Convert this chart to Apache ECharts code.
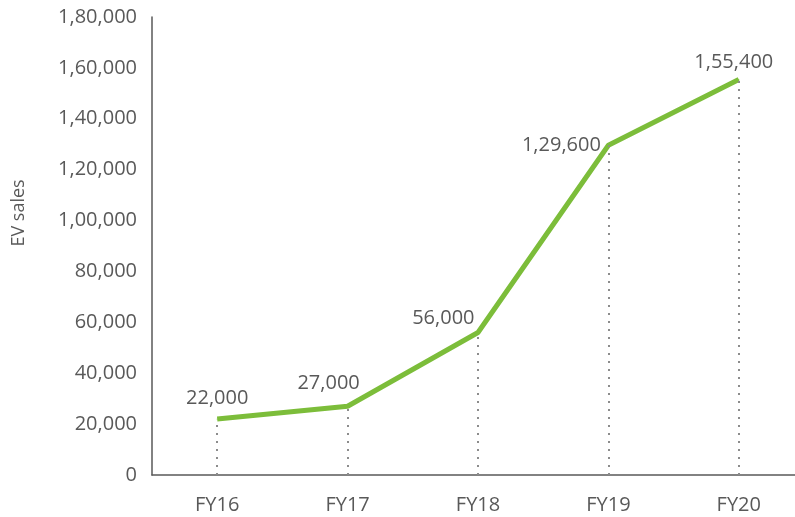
<!DOCTYPE html>
<html>
<head>
<meta charset="utf-8">
<script src="https://cdn.jsdelivr.net/npm/echarts@6/dist/echarts.min.js"></script>
<style>
  html, body { margin: 0; padding: 0; background: #fff; }
  #chart { width: 795px; height: 517px; }
</style>
</head>
<body>
<div id="chart"></div>
<script>
// data
const categories = ['FY16', 'FY17', 'FY18', 'FY19', 'FY20'];
const evSales = [22000, 27000, 56000, 129600, 155400];
const yTicks = [0, 20000, 40000, 60000, 80000, 100000, 120000, 140000, 160000, 180000];

// Indian style grouping: 1,55,400
function fmtIN(n) {
  const s = String(Math.round(n));
  if (s.length <= 3) return s;
  const last3 = s.slice(-3);
  let rest = s.slice(0, -3);
  const parts = [];
  while (rest.length > 2) {
    parts.unshift(rest.slice(-2));
    rest = rest.slice(0, -2);
  }
  if (rest) parts.unshift(rest);
  return parts.join(',') + ',' + last3;
}

const textColor = '#595959';
const fontFamily = '"Open Sans", sans-serif';

// label placement per point
const labelCfg = [
  { position: 'top', offset: [0, -5] },
  { position: 'top', offset: [-19, -8] },
  { position: 'left', offset: [2, -14] },
  { position: 'left', offset: [-2, 0] },
  { position: 'top', offset: [-5, -2] }
];

const chart = echarts.init(document.getElementById('chart'));
chart.setOption({
  backgroundColor: '#fff',
  animation: false,
  grid: {
    left: 152,
    top: 17,
    width: 652,
    bottom: 42,
    outerBoundsMode: 'none'
  },
  graphic: [{
    type: 'text',
    x: 19,
    y: 213,
    rotation: Math.PI / 2,
    style: {
      text: 'EV sales',
      fill: textColor,
      font: '18px ' + fontFamily,
      align: 'center',
      verticalAlign: 'middle'
    }
  }],
  xAxis: {
    type: 'category',
    data: categories,
    boundaryGap: true,
    axisTick: { show: false },
    axisLine: { lineStyle: { color: textColor, width: 1.5 } },
    axisLabel: { color: textColor, fontSize: 20, fontFamily: fontFamily, margin: 20 }
  },
  yAxis: {
    type: 'value',
    min: yTicks[0],
    max: yTicks[yTicks.length - 1],
    interval: yTicks[1] - yTicks[0],
    splitLine: { show: false },
    axisTick: { show: false },
    axisLine: { show: true, lineStyle: { color: textColor, width: 1.5 } },
    axisLabel: {
      color: textColor,
      fontSize: 20,
      fontFamily: fontFamily,
      margin: 15,
      formatter: v => fmtIN(v)
    }
  },
  series: [{
    type: 'line',
    data: evSales.map((v, i) => ({
      value: v,
      label: labelCfg[i]
    })),
    symbol: 'circle',
    symbolSize: 1,
    showSymbol: true,
    itemStyle: { color: '#7cbd3a' },
    lineStyle: { color: '#7cbd3a', width: 5 },
    label: {
      show: true,
      color: textColor,
      fontSize: 20,
      fontFamily: fontFamily,
      formatter: p => fmtIN(p.value)
    },
    z: 3,
    markLine: {
      silent: true,
      symbol: 'none',
      label: { show: false },
      lineStyle: { color: '#8c8c8c', type: [2, 6], width: 2 },
      data: evSales.map((v, i) => [
        { coord: [i, 0] },
        { coord: [i, v] }
      ])
    }
  }]
});
</script>
</body>
</html>
